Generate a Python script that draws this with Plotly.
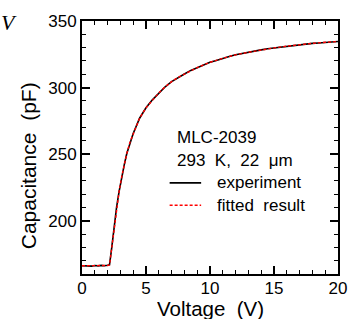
import plotly.graph_objects as go

# Experiment
exp_v = [0, 0.25, 0.5, 0.75, 1.0, 1.25, 1.5, 1.75, 2.0, 2.15, 2.3, 2.5, 2.7, 2.9, 3.1, 3.3, 3.5,
         3.75, 4.0, 4.5, 5.0, 5.5, 6.0, 6.5, 7.0, 7.5, 8.0, 8.5, 9.0, 9.5, 10, 10.5, 11, 11.5,
         12, 12.5, 13, 13.5, 14, 14.5, 15, 15.5, 16, 16.5, 17, 17.5, 18, 18.5, 19, 19.5, 20]
exp_c = [166.2, 166.0, 166.3, 165.9, 166.4, 166.1, 166.5, 166.2, 166.6, 167.0, 178.0, 195.0, 210.0,
         222.0, 233.0, 242.0, 250.5, 259.0, 265.5, 277.0, 284.8, 290.8, 296.0, 300.6, 304.5, 307.6,
         310.2, 312.9, 315.1, 317.0, 319.0, 320.4, 322.0, 323.3, 324.6, 325.4, 326.5, 327.5, 328.3,
         329.2, 329.8, 330.6, 331.1, 331.7, 332.3, 332.6, 333.2, 333.5, 334.0, 334.3, 334.6]

# Fitted result
fit_v = [0, 0.5, 1.0, 1.5, 2.0, 2.15, 2.3, 2.5, 2.7, 2.9, 3.1, 3.3, 3.5, 3.75, 4.0, 4.5, 5.0, 5.5,
         6.0, 6.5, 7.0, 7.5, 8.0, 8.5, 9.0, 9.5, 10, 11, 12, 13, 14, 15, 16, 17, 18, 19, 20]
fit_c = [166.2, 166.2, 166.2, 166.3, 166.4, 166.8, 178.0, 195.0, 210.0, 222.0, 233.0, 242.0, 250.5,
         259.0, 265.5, 277.0, 284.8, 290.8, 296.0, 300.6, 304.5, 307.6, 310.2, 312.9, 315.0, 317.0,
         319.0, 322.0, 324.6, 326.5, 328.3, 329.8, 331.1, 332.3, 333.2, 334.0, 334.6]

x_ticks = [0, 5, 10, 15, 20]
y_ticks = [200, 250, 300, 350]

W, H = 359, 320
L, R, T, B = 82, 342, 13, 274
pw, ph = R - L, B - T

def px(x):
    return (x - L) / pw

def py(y):
    return (B - y) / ph

font = "Liberation Sans, Arial, sans-serif"

fig = go.Figure()
fig.add_trace(go.Scatter(x=exp_v, y=exp_c, mode="lines",
                         line=dict(color="black", width=1.6), name="experiment"))
fig.add_trace(go.Scatter(x=fit_v, y=fit_c, mode="lines",
                         line=dict(color="red", width=1.4, dash="3px,2px"), name="fitted result"))

axis_common = dict(showgrid=False, zeroline=False, showline=True, linecolor="black", linewidth=2,
                   ticks="inside", tickcolor="black", tickwidth=1.6, ticklen=8, mirror="ticks",
                   tickfont=dict(family=font, size=17, color="black"))

fig.update_xaxes(range=[0, 20], tickvals=x_ticks, ticktext=[str(v) for v in x_ticks],
                 ticklabelstandoff=-2,
                 minor=dict(ticks="inside", dtick=1, ticklen=4, tickwidth=1.4, tickcolor="black"),
                 **axis_common)
fig.update_yaxes(range=[160, 350], tickvals=y_ticks, ticktext=[str(v) for v in y_ticks],
                 minor=dict(ticks="inside", dtick=10, tick0=0, ticklen=4, tickwidth=1.4, tickcolor="black"),
                 **axis_common)

ann = []
ann.append(dict(text="Voltage\u00a0\u00a0(V)", x=0.5, y=py(309.5), xref="paper", yref="paper",
                showarrow=False, font=dict(family=font, size=20.5, color="black"), height=21,
                xanchor="center", yanchor="middle"))
ann.append(dict(text="Capacitance\u00a0\u00a0(pF)", x=px(28), y=py(162), xref="paper", yref="paper",
                showarrow=False, textangle=-90, font=dict(family=font, size=21, color="black"),
                xanchor="center", yanchor="middle"))
ann.append(dict(text="<i>V</i>", x=px(8), y=py(15), xref="paper", yref="paper", showarrow=False,
                font=dict(family="Liberation Serif, Times New Roman, serif", size=22, color="black"),
                xanchor="center", yanchor="middle"))
ann.append(dict(text="MLC-2039", x=px(176), y=py(133), xref="paper", yref="paper", showarrow=False,
                font=dict(family=font, size=17, color="black"), xanchor="left", yanchor="middle"))
ann.append(dict(text="293\u00a0\u00a0K,\u00a0\u00a022\u00a0\u00a0\u03bcm", x=px(176), y=py(157), xref="paper", yref="paper",
                showarrow=False, font=dict(family=font, size=17, color="black"), xanchor="left", yanchor="middle"))
ann.append(dict(text="experiment", x=px(217), y=py(180), xref="paper", yref="paper", showarrow=False,
                font=dict(family=font, size=17, color="black"), xanchor="left", yanchor="middle"))
ann.append(dict(text="fitted\u00a0\u00a0result", x=px(217), y=py(203), xref="paper", yref="paper", showarrow=False,
                font=dict(family=font, size=17, color="black"), xanchor="left", yanchor="middle"))

shapes = [
    dict(type="line", xref="paper", yref="paper", x0=px(171), x1=px(203), y0=py(180), y1=py(180),
         line=dict(color="black", width=1.6)),
    dict(type="line", xref="paper", yref="paper", x0=px(171), x1=px(203), y0=py(203), y1=py(203),
         line=dict(color="red", width=1.4, dash="3px,2px")),
]

fig.update_layout(width=W, height=H, margin=dict(l=L, r=W - R, t=T, b=H - B, pad=0),
                  paper_bgcolor="white", plot_bgcolor="white", showlegend=False,
                  annotations=ann, shapes=shapes)

fig.write_html("out.html", config={"displayModeBar": False},
               post_script="document.body.style.margin='0';document.body.style.padding='0';document.body.style.overflow='hidden';")
